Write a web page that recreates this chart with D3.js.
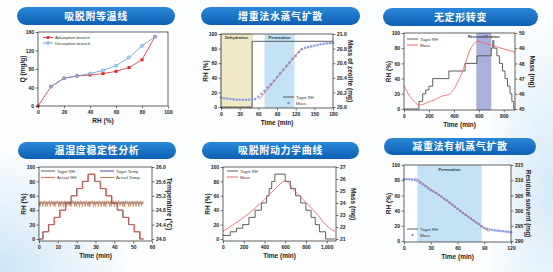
<!DOCTYPE html>
<html>
<head>
<meta charset="utf-8">
<script src="https://cdn.jsdelivr.net/npm/d3@7"></script>
<style>
  html, body { margin: 0; padding: 0; }
  body {
    width: 553px; height: 272px; overflow: hidden;
    background:
      radial-gradient(ellipse 130px 120px at 0px 272px, #cde5f6 0%, rgba(205,229,246,0) 100%),
      radial-gradient(ellipse 70px 170px at 553px 190px, #d4e9f7 0%, rgba(212,233,247,0) 100%),
      #fbfdfe;
  }
  svg { display: block; font-family: "Liberation Sans", Arial, sans-serif; }
</style>
</head>
<body>
<svg id="chart" width="553" height="272"></svg>
<script>
// ---- data ----
// 吸脱附等温线
const isoRH = [0, 10, 20, 30, 40, 50, 60, 70, 80, 90];
const adsorptionQ = [0, 42, 60, 65, 67, 70, 75, 83, 100, 150];
const desorptionRH = [10, 20, 30, 40, 50, 60, 70, 80, 90];
const desorptionQ = [42, 60, 65, 70, 77, 87, 105, 130, 150];

// 增重法水蒸气扩散
const wvTime = [0, 5, 10, 15, 20, 25, 30, 35, 40, 45, 50, 55, 60, 65, 70, 75, 80, 85, 90,
  95, 100, 105, 110, 115, 120, 125, 130, 135, 140, 145, 150, 155, 160, 165, 170, 175, 180];
const wvMass = [20.13, 20.12, 20.115, 20.11, 20.105, 20.1, 20.1, 20.1, 20.1, 20.1, 20.1, 20.11,
  20.14, 20.18, 20.22, 20.27, 20.31, 20.36, 20.41, 20.46, 20.51, 20.56, 20.61, 20.66, 20.7,
  20.75, 20.79, 20.81, 20.82, 20.83, 20.84, 20.85, 20.86, 20.865, 20.87, 20.875, 20.88];
const wvTargetTime = [0, 50, 50, 180];
const wvTargetRH = [0, 0, 90, 90];
const wvFitTime = [61, 130];
const wvFitMass = [20.1, 20.81];
const wvRegions = [
  { name: "Dehydration", from: 0, to: 50 },
  { name: "Permeation", from: 70, to: 118 }
];

// 无定形转变
const amTime = [0, 120, 150, 175, 200, 230, 360, 490, 585, 700, 712, 720, 745, 765, 790, 810, 830, 850, 865, 880, 890];
const amRH = [0, 10, 20, 25, 30, 40, 50, 60, 70, 80, 90, 80, 70, 60, 50, 40, 30, 20, 10, 0, 0];
const amMassTime = [0, 30, 60, 90, 120, 150, 200, 250, 290, 330, 360, 380, 400, 420, 440, 460,
  480, 500, 520, 540, 560, 580, 600, 620, 660, 700, 750, 800, 850, 890];
const amMass = [46.55, 46.05, 45.68, 45.42, 45.27, 45.3, 45.48, 45.62, 45.8, 45.9, 45.95, 46.1,
  46.3, 46.6, 46.95, 47.3, 47.75, 48.2, 48.7, 49.05, 49.3, 49.42, 49.45, 49.4, 49.3, 49.2,
  49.07, 48.95, 48.83, 48.73];
const amRegion = { name: "Recrystallization", from: 580, to: 700 };

// 温湿度稳定性分析
const thTargetTime = [0, 2, 5, 8, 11, 14, 17, 20, 23, 26, 29.5, 32.5, 35.5, 38.5, 41.5, 44.5, 47.5, 50.5, 53.5, 55.5];
const thActualTime = [0, 2.3, 5.3, 8.3, 11.3, 14.3, 17.3, 20.3, 23.3, 26.3, 29.8, 32.8, 35.8, 38.8, 41.8, 44.8, 47.8, 50.8, 53.8, 55.5];
const thRH = [0, 10, 20, 30, 40, 50, 60, 70, 80, 90, 80, 70, 60, 50, 40, 30, 20, 10, 0, 0];
const thTargetTemp = 25.0;
const TEMP_STEP = 0.5; // min between temperature readings
const thActualTemp = [25.05, 24.9, 25.05, 25.04, 24.9, 25.05, 25.06, 24.9, 25.05, 24.91, 25.04,
  25.05, 24.9, 25.06, 25.04, 24.92, 25.05, 24.9, 25.05, 25.04, 25.06, 24.9, 25.05, 24.91, 25.05,
  25.04, 24.9, 25.06, 25.05, 24.9, 25.04, 25.05, 24.92, 25.05, 24.9, 25.06, 25.04, 25.05, 24.9,
  25.05, 24.91, 25.05, 25.04, 24.9, 25.06, 25.05, 24.9, 25.04, 25.05, 24.9, 25.06, 25.04, 24.91,
  25.05, 24.9, 25.05, 25.04, 25.06, 24.9, 25.05, 24.92, 25.04, 25.05, 24.9, 25.06, 25.05, 24.9,
  25.04, 25.05, 24.91, 25.05, 24.9, 25.06, 25.04, 25.05, 24.9, 25.05, 24.91, 25.04, 25.06, 24.9,
  25.05, 25.04, 24.9, 25.05, 25.06, 24.92, 25.04, 25.05, 24.9, 25.05, 24.9, 25.06, 25.04, 25.05,
  24.9, 25.05, 24.91, 25.04, 25.06, 24.9, 25.05, 25.04, 24.9, 25.05, 25.06, 24.9, 25.04, 25.05,
  24.92, 25.05];

// 吸脱附动力学曲线
const kTime = [0, 70, 130, 190, 250, 310, 370, 420, 445, 470, 500, 600, 650, 700, 750, 800, 850, 890, 930, 990, 1080];
const kRH = [5, 10, 15, 20, 30, 40, 50, 60, 70, 80, 90, 80, 70, 60, 50, 40, 30, 20, 10, 0, 0];
const kMassTime = [0, 100, 200, 300, 400, 500, 600, 700, 800, 900, 1000, 1080];
const kMass = [21.64, 22.2, 22.8, 23.5, 24.3, 25.15, 25.84, 24.9, 24.05, 23.15, 22.1, 21.64];

// 减重法有机蒸气扩散
const ovTime = [0, 3, 6, 9, 12, 15, 18, 21, 24, 27, 30, 33, 36, 39, 42, 45, 48, 51, 54, 57, 60,
  63, 66, 69, 72, 75, 78, 81, 84, 87, 90, 93, 96, 99, 102, 105, 108, 111, 114, 117, 120];
const ovMass = [310.3, 310.3, 310.3, 310.2, 310.1, 309.8, 309.2, 308.6, 308.0, 307.3, 306.7,
  306.3, 305.8, 305.2, 304.6, 304.0, 303.4, 302.7, 302.0, 301.3, 300.6, 299.9, 299.2, 298.6,
  298.0, 297.4, 296.8, 296.1, 295.5, 294.8, 294.3, 294.0, 293.8, 293.6, 293.5, 293.4, 293.3,
  293.2, 293.1, 293.0, 292.9];
const ovFitTime = [12, 95];
const ovFitMass = [310.9, 293.1];
const ovRegion = { name: "Permeation", from: 15, to: 87 };

// ---- colours ----
const GRAY = "#4d4d4d";
const RED = "#ee5a57";
const DOT = "#7b8fe0";

const svg = d3.select("#chart");
const defs = svg.append("defs");
const pillGrad = defs.append("linearGradient").attr("id", "pill")
  .attr("x1", 0).attr("y1", 0).attr("x2", 0).attr("y2", 1);
pillGrad.append("stop").attr("offset", "0%").attr("stop-color", "#2a88d8");
pillGrad.append("stop").attr("offset", "100%").attr("stop-color", "#0d60b3");

function axisStyle(sel) {
  sel.select(".domain").remove();
  sel.selectAll("line").attr("stroke", "#222").attr("stroke-width", 0.6);
  sel.selectAll("text").attr("font-size", 5).attr("font-weight", 700).attr("fill", "#222");
}

function panel(cfg) {
  const [x0, y0, x1, y1] = cfg.box;
  const pad = cfg.pad || 0;
  const g = svg.append("g");
  const [px, py, pw, ph] = cfg.pill;

  g.append("rect").attr("x", px).attr("y", py).attr("width", pw).attr("height", ph)
    .attr("rx", ph / 2).attr("fill", "url(#pill)");
  g.append("text").attr("x", px + pw / 2).attr("y", py + ph / 2 + 3.6)
    .attr("text-anchor", "middle").attr("fill", "#fff")
    .attr("font-family", "'Noto Sans CJK SC', sans-serif").attr("font-weight", 700)
    .attr("font-size", 10).attr("letter-spacing", 0.6).text(cfg.title);

  const x = d3.scaleLinear().domain(cfg.xDomain).range([x0, x1]);
  const y = d3.scaleLinear().domain(cfg.yDomain).range([y1 - pad, y0]);
  const yr = cfg.rDomain ? d3.scaleLinear().domain(cfg.rDomain).range([y1 - pad, y0]) : null;

  g.append("rect").attr("x", x0).attr("y", y0).attr("width", x1 - x0).attr("height", y1 - y0)
    .attr("fill", "#fff");
  const plot = g.append("g");
  g.append("rect").attr("x", x0).attr("y", y0).attr("width", x1 - x0).attr("height", y1 - y0)
    .attr("fill", "none").attr("stroke", "#222").attr("stroke-width", 0.7);

  g.append("g").attr("transform", `translate(0,${y1})`)
    .call(d3.axisBottom(x).tickValues(cfg.xTicks).tickSize(2.5).tickPadding(1.5))
    .call(axisStyle);
  g.append("g").attr("transform", `translate(${x0},0)`)
    .call(d3.axisLeft(y).tickValues(cfg.yTicks).tickSize(2.5).tickPadding(1.5))
    .call(axisStyle);
  if (yr) {
    g.append("g").attr("transform", `translate(${x1},0)`)
      .call(d3.axisRight(yr).tickValues(cfg.rTicks).tickFormat(cfg.rFormat || d3.format("d"))
        .tickSize(2.5).tickPadding(1.5))
      .call(axisStyle);
    g.append("text").attr("transform", `translate(${x1 + 15},${(y0 + y1) / 2}) rotate(90)`)
      .attr("text-anchor", "middle").attr("font-size", 6.5).attr("font-weight", 700)
      .attr("fill", "#222").text(cfg.rLabel);
  }
  g.append("text").attr("x", (x0 + x1) / 2).attr("y", y1 + 16.5)
    .attr("text-anchor", "middle").attr("font-size", 6.5).attr("font-weight", 700)
    .attr("fill", "#222").text(cfg.xLabel);
  g.append("text").attr("transform", `translate(${x0 - 13},${(y0 + y1) / 2}) rotate(-90)`)
    .attr("text-anchor", "middle").attr("font-size", 6.5).attr("font-weight", 700)
    .attr("fill", "#222").text(cfg.yLabel);

  return { g, plot, x, y, yr, box: cfg.box };
}

function region(p, r, fill, labelY, stroke) {
  const [, y0, , y1] = p.box;
  p.plot.append("rect").attr("x", p.x(r.from)).attr("y", y0)
    .attr("width", p.x(r.to) - p.x(r.from)).attr("height", y1 - y0)
    .attr("fill", fill).attr("stroke", stroke || "none").attr("stroke-width", 0.5);
  p.plot.append("text").attr("x", (p.x(r.from) + p.x(r.to)) / 2).attr("y", labelY)
    .attr("text-anchor", "middle").attr("font-size", 4).attr("font-weight", 700)
    .attr("fill", "#333").text(r.name);
}

function path(p, xs, ys, yScale, color, width, curve) {
  const line = d3.line().x(d => p.x(d[0])).y(d => yScale(d[1])).curve(curve || d3.curveLinear);
  p.plot.append("path").datum(d3.zip(xs, ys)).attr("d", line)
    .attr("fill", "none").attr("stroke", color).attr("stroke-width", width);
}

function dots(p, xs, ys, yScale, color, r) {
  p.plot.append("g").selectAll("circle").data(d3.zip(xs, ys)).join("circle")
    .attr("cx", d => p.x(d[0])).attr("cy", d => yScale(d[1])).attr("r", r)
    .attr("fill", color).attr("fill-opacity", 0.85);
}

function legend(g, lx, ly, items, lineLen = 11, rowH = 6) {
  items.forEach((it, i) => {
    const yy = ly + i * rowH;
    if (it.type !== "dot") {
      g.append("line").attr("x1", lx).attr("x2", lx + lineLen).attr("y1", yy).attr("y2", yy)
        .attr("stroke", it.color).attr("stroke-width", 0.9);
    }
    if (it.type === "dot") {
      g.append("circle").attr("cx", lx + lineLen / 2).attr("cy", yy).attr("r", 1.2).attr("fill", it.color);
    } else if (it.type === "square") {
      g.append("rect").attr("x", lx + lineLen / 2 - 1.4).attr("y", yy - 1.4)
        .attr("width", 2.8).attr("height", 2.8).attr("fill", it.color);
    } else if (it.type === "circle") {
      g.append("circle").attr("cx", lx + lineLen / 2).attr("cy", yy).attr("r", 1.4)
        .attr("fill", "#b9d6f0").attr("stroke", it.color).attr("stroke-width", 0.6);
    }
    g.append("text").attr("x", lx + lineLen + 2).attr("y", yy + 1.5)
      .attr("font-size", 4.3).attr("fill", "#333").text(it.label);
  });
}

// ---- panel 1: 吸脱附等温线 ----
const p1 = panel({
  title: "吸脱附等温线", pill: [17, 7, 158, 18], box: [38, 32, 168, 106],
  xDomain: [0, 100], xTicks: [0, 20, 40, 60, 80, 100],
  yDomain: [0, 160], yTicks: [0, 40, 80, 120, 160],
  xLabel: "RH (%)", yLabel: "Q (mg/g)"
});
path(p1, isoRH, adsorptionQ, p1.y, "#e2262e", 0.8);
path(p1, desorptionRH, desorptionQ, p1.y, "#5b9bd5", 0.8);
p1.plot.append("g").selectAll("rect").data(d3.zip(isoRH, adsorptionQ)).join("rect")
  .attr("x", d => p1.x(d[0]) - 1.5).attr("y", d => p1.y(d[1]) - 1.5)
  .attr("width", 3).attr("height", 3).attr("fill", "#e2262e");
p1.plot.append("g").selectAll("circle").data(d3.zip(desorptionRH, desorptionQ)).join("circle")
  .attr("cx", d => p1.x(d[0])).attr("cy", d => p1.y(d[1])).attr("r", 1.6)
  .attr("fill", "#b9d6f0").attr("fill-opacity", 0.7).attr("stroke", "#5b9bd5").attr("stroke-width", 0.6);
legend(p1.g, 43, 37.5, [
  { label: "Adsorption branch", color: "#e2262e", type: "square" },
  { label: "Desorption branch", color: "#5b9bd5", type: "circle" }
], 10, 5.5);

// ---- panel 2: 增重法水蒸气扩散 ----
const p2 = panel({
  title: "增重法水蒸气扩散", pill: [201, 7, 159, 18], box: [221, 34, 333, 108], pad: 1,
  xDomain: [0, 180], xTicks: [0, 30, 60, 90, 120, 150, 180],
  yDomain: [0, 100], yTicks: [0, 20, 40, 60, 80, 100],
  rDomain: [20.0, 21.0], rTicks: [20.0, 20.2, 20.4, 20.6, 20.8, 21.0], rFormat: d3.format(".1f"),
  xLabel: "Time (min)", yLabel: "RH (%)", rLabel: "Mass of zeolite (mg)"
});
region(p2, wvRegions[0], "#efeac5", 39, "#b8b48a");
region(p2, wvRegions[1], "#c3e2f6", 39);
path(p2, wvTargetTime, wvTargetRH, p2.y, GRAY, 0.9);
dots(p2, wvTime, wvMass, p2.yr, DOT, 1.3);
path(p2, wvFitTime, wvFitMass, p2.yr, "#e23b3b", 0.6);
legend(p2.g, 283, 97, [
  { label: "Taget RH", color: GRAY, type: "line" },
  { label: "Mass", color: DOT, type: "dot" }
]);

// ---- panel 3: 无定形转变 ----
const p3 = panel({
  title: "无定形转变", pill: [383, 8, 155, 18], box: [404, 33, 515, 110], pad: 1,
  xDomain: [0, 890], xTicks: [0, 200, 400, 600, 800],
  yDomain: [0, 100], yTicks: [0, 20, 40, 60, 80, 100],
  rDomain: [45, 50], rTicks: [45, 46, 47, 48, 49, 50],
  xLabel: "Time (min)", yLabel: "RH (%)", rLabel: "Mass (mg)"
});
region(p3, amRegion, "#aab0dc", 37.5);
path(p3, amTime, amRH, p3.y, GRAY, 0.9, d3.curveStepAfter);
path(p3, amMassTime, amMass, p3.yr, RED, 0.8, d3.curveMonotoneX);
legend(p3.g, 407, 39, [
  { label: "Taget RH", color: GRAY, type: "line" },
  { label: "Mass", color: RED, type: "line" }
]);

// ---- panel 4: 温湿度稳定性分析 ----
const p4 = panel({
  title: "温湿度稳定性分析", pill: [18, 142, 158, 17], box: [39, 167, 152, 241], pad: 2,
  xDomain: [0, 60], xTicks: [0, 10, 20, 30, 40, 50, 60],
  yDomain: [0, 100], yTicks: [0, 20, 40, 60, 80, 100],
  rDomain: [24.0, 26.0], rTicks: [24.0, 24.4, 24.8, 25.2, 25.6, 26.0], rFormat: d3.format(".1f"),
  xLabel: "Time (min)", yLabel: "RH (%)", rLabel: "Temperature (°C)"
});
path(p4, [0, 55.5], [thTargetTemp, thTargetTemp], p4.yr, "#2f3590", 0.8);
path(p4, thActualTemp.map((_, i) => i * TEMP_STEP), thActualTemp, p4.yr, "#c2703a", 0.7);
path(p4, thTargetTime, thRH, p4.y, GRAY, 0.9, d3.curveStepAfter);
path(p4, thActualTime, thRH, p4.y, RED, 0.8, d3.curveStepAfter);
legend(p4.g, 41, 171, [
  { label: "Taget RH", color: GRAY, type: "line" },
  { label: "Actual RH", color: RED, type: "line" }
], 14, 6.5);
legend(p4.g, 100, 171, [
  { label: "Taget Temp.", color: "#2f3590", type: "line" },
  { label: "Actual Temp.", color: "#c2703a", type: "line" }
], 14, 6.5);

// ---- panel 5: 吸脱附动力学曲线 ----
const p5 = panel({
  title: "吸脱附动力学曲线", pill: [202, 142, 157, 17], box: [223, 167, 336, 241], pad: 2,
  xDomain: [0, 1090], xTicks: [0, 200, 400, 600, 800, 1000],
  yDomain: [0, 100], yTicks: [0, 20, 40, 60, 80, 100],
  rDomain: [21, 27], rTicks: [21, 22, 23, 24, 25, 26, 27],
  xLabel: "Time (min)", yLabel: "RH (%)", rLabel: "Mass (mg)"
});
path(p5, kTime, kRH, p5.y, GRAY, 0.9, d3.curveStepAfter);
path(p5, kMassTime, kMass, p5.yr, RED, 0.8, d3.curveMonotoneX);
legend(p5.g, 227, 171, [
  { label: "Taget RH", color: GRAY, type: "line" },
  { label: "Mass", color: RED, type: "line" }
]);

// ---- panel 6: 减重法有机蒸气扩散 ----
const p6 = panel({
  title: "减重法有机蒸气扩散", pill: [384, 138, 152, 17], box: [404, 165, 511, 242], pad: 1,
  xDomain: [0, 120], xTicks: [0, 30, 60, 90, 120],
  yDomain: [0, 100], yTicks: [0, 20, 40, 60, 80, 100],
  rDomain: [290, 315], rTicks: [290, 295, 300, 305, 310, 315],
  xLabel: "Time (min)", yLabel: "RH (%)", rLabel: "Residual solvent (mg)"
});
region(p6, ovRegion, "#c3e2f6", 170.5);
dots(p6, ovTime, ovMass, p6.yr, DOT, 1.3);
path(p6, ovFitTime, ovFitMass, p6.yr, "#e23b3b", 0.6);
legend(p6.g, 407, 229, [
  { label: "Taget RH", color: GRAY, type: "line" },
  { label: "Mass", color: DOT, type: "dot" }
]);
</script>
</body>
</html>
